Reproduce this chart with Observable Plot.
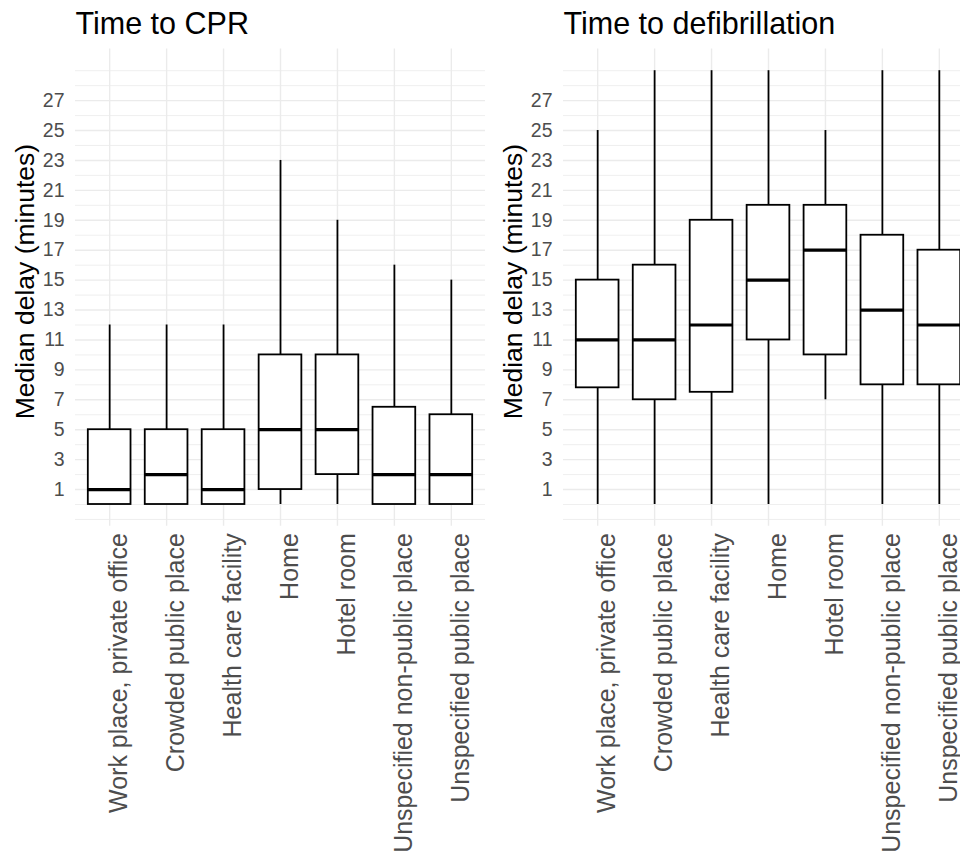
<!DOCTYPE html>
<html><head><meta charset="utf-8">
<script src="https://cdn.jsdelivr.net/npm/d3@7"></script>
<script src="https://cdn.jsdelivr.net/npm/@observablehq/plot@0.6"></script>
<style>
body{margin:0;background:#fff;}
#wrap{position:relative;width:960px;height:853px;overflow:hidden;background:#fff;font-family:"Liberation Sans",Arial,sans-serif;}
#wrap svg{max-width:none !important;position:absolute;top:0;}
</style></head><body><div id="wrap"></div>
<script>
const categories = ["Work place, private office","Crowded public place","Health care facility","Home","Hotel room","Unspecified non-public place","Unspecified public place"];
const panelTitles = ["Time to CPR","Time to defibrillation"];
const yLabel = "Median delay (minutes)";
const yTicks = [1,3,5,7,9,11,13,15,17,19,21,23,25,27];
const yMinor = [-1,0,2,4,6,8,10,12,14,16,18,20,22,24,26,28,29];

const cprLower  = [0,0,0,0,0,0,0];
const cprQ1     = [0,0,0,1,2,0,0];
const cprMedian = [1,2,1,5,5,2,2];
const cprQ3     = [5,5,5,10,10,6.5,6];
const cprUpper  = [12,12,12,23,19,16,15];

const defibLower  = [0,0,0,0,7,0,0];
const defibQ1     = [7.8,7,7.5,11,10,8,8];
const defibMedian = [11,11,12,15,17,13,12];
const defibQ3     = [15,16,19,20,20,18,17];
const defibUpper  = [25,29,29,29,25,29,29];

const font = '"Liberation Sans", Arial, sans-serif';

function makePanel(title, lower, q1, med, q3, upper) {
  const rows = categories.map((c, i) => ({cat: c, lower: lower[i], q1: q1[i], median: med[i], q3: q3[i], upper: upper[i]}));
  return Plot.plot({
    width: 490, height: 853,
    marginLeft: 75, marginRight: 5, marginTop: 48.5, marginBottom: 327.3,
    style: {fontFamily: font, background: "transparent"},
    x: {type: "band", domain: categories, paddingInner: 0.25, paddingOuter: 0.225, round: false, axis: null},
    y: {domain: [-1.45, 30.45]},
    marks: [
      Plot.ruleY(yMinor, {stroke: "#ebebeb", strokeWidth: 0.8}),
      Plot.ruleY(yTicks, {stroke: "#ebebeb", strokeWidth: 1.4}),
      Plot.ruleX(categories, {stroke: "#ebebeb", strokeWidth: 1.4}),
      Plot.axisY({ticks: yTicks, tickSize: 0, tickPadding: 11, fontSize: 19.5, color: "#4d4d4d", fill: "#4d4d4d", label: null, tickFormat: d => String(d)}),
      Plot.ruleX(rows.filter(r => r.upper > r.q3), {x: "cat", y1: "q3", y2: "upper", stroke: "black", strokeWidth: 1.8}),
      Plot.ruleX(rows.filter(r => r.lower < r.q1), {x: "cat", y1: "lower", y2: "q1", stroke: "black", strokeWidth: 1.8}),
      Plot.barY(rows, {x: "cat", y1: "q1", y2: "q3", fill: "white", stroke: "black", strokeWidth: 1.8}),
      Plot.tickY(rows, {x: "cat", y: "median", stroke: "black", strokeWidth: 3.2}),
      Plot.text(categories, {x: d => d, frameAnchor: "bottom", rotate: -90, textAnchor: "end", lineAnchor: "top", dy: 7, fontSize: 25, fill: "#4d4d4d"}),
      Plot.text([title], {frameAnchor: "top-left", lineAnchor: "bottom", textAnchor: "start", dy: -15.5, fontSize: 30.5, fill: "black"}),
      Plot.text([yLabel], {frameAnchor: "left", rotate: -90, lineAnchor: "top", textAnchor: "middle", dx: -60, dy: -6, fontSize: 26.5, fill: "black"})
    ]
  });
}

const wrap = document.getElementById("wrap");
const left = makePanel(panelTitles[0], cprLower, cprQ1, cprMedian, cprQ3, cprUpper);
left.style.left = "0px";
wrap.appendChild(left);
const right = makePanel(panelTitles[1], defibLower, defibQ1, defibMedian, defibQ3, defibUpper);
right.style.left = "488px";
wrap.appendChild(right);
</script></body></html>
